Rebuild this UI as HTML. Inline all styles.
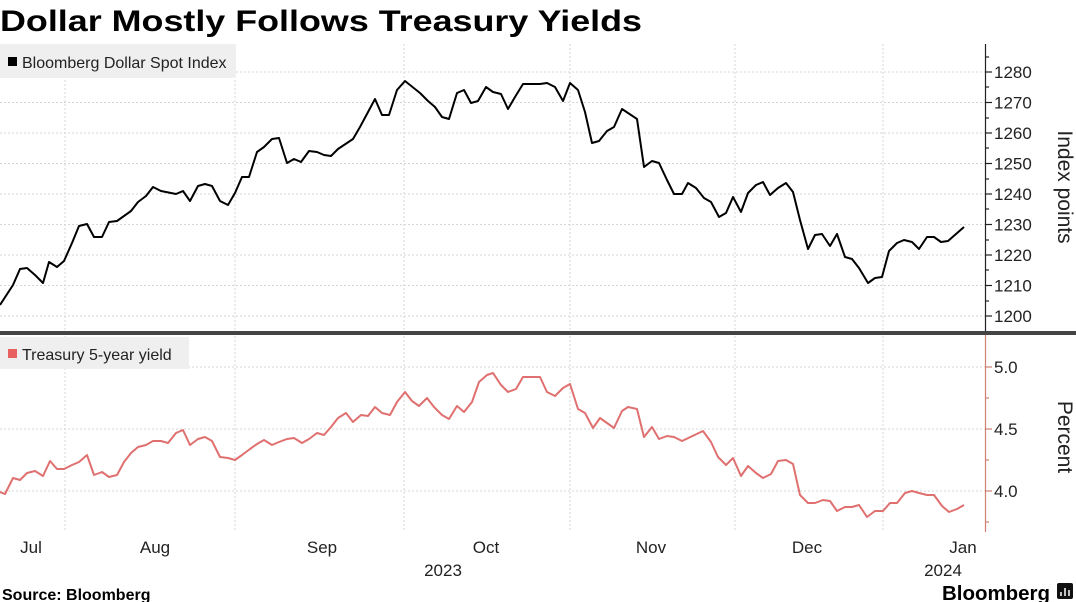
<!DOCTYPE html>
<html><head><meta charset="utf-8"><style>
html,body{margin:0;padding:0;background:#fff;width:1076px;height:602px;overflow:hidden}
svg text{font-family:"Liberation Sans","DejaVu Sans",sans-serif}
</style></head><body>
<svg width="1076" height="602" viewBox="0 0 1076 602" xmlns="http://www.w3.org/2000/svg">
<text x="0" y="31" font-size="30" font-weight="bold" fill="#000" textLength="642" lengthAdjust="spacingAndGlyphs">Dollar Mostly Follows Treasury Yields</text>
<g stroke="#d6d6d6" stroke-width="1" stroke-dasharray="2,2">
<line x1="0" x2="985" y1="72" y2="72"/><line x1="0" x2="985" y1="102.5" y2="102.5"/><line x1="0" x2="985" y1="133" y2="133"/><line x1="0" x2="985" y1="163.5" y2="163.5"/><line x1="0" x2="985" y1="194" y2="194"/><line x1="0" x2="985" y1="224.5" y2="224.5"/><line x1="0" x2="985" y1="255" y2="255"/><line x1="0" x2="985" y1="285.5" y2="285.5"/><line x1="0" x2="985" y1="316" y2="316"/>
<line x1="0" x2="985" y1="367" y2="367"/><line x1="0" x2="985" y1="429" y2="429"/><line x1="0" x2="985" y1="491" y2="491"/>
<line x1="65" x2="65" y1="44" y2="532"/><line x1="235" x2="235" y1="44" y2="532"/><line x1="404" x2="404" y1="44" y2="532"/><line x1="570" x2="570" y1="44" y2="532"/><line x1="735" x2="735" y1="44" y2="532"/><line x1="883" x2="883" y1="44" y2="532"/>
</g>
<rect x="0" y="44" width="236" height="34" fill="#efefef"/>
<rect x="8" y="57" width="9" height="9" fill="#000"/>
<text x="22" y="68" font-size="16" fill="#222">Bloomberg Dollar Spot Index</text>
<rect x="0" y="337" width="189" height="32" fill="#efefef"/>
<rect x="8" y="349" width="9" height="9" fill="#e86060"/>
<text x="22" y="360" font-size="16" fill="#222">Treasury 5-year yield</text>
<polyline fill="none" stroke="#000" stroke-width="2" stroke-linejoin="round" points="0,305 13,285 20,269 27,268 35,275 43,283 49,262 57,267 64,261 72,243 79,226 87,224 94,237 102,237 109,222 117,221 131,211 138,202 146,196 153,187 161,191 176,194 183,191 190,201 198,186 205,184 212,186 220,201 228,205 235,193 242,177 249,177 257,152 264,147 272,139 279,138 287,163 294,159 301,162 309,151 317,152 324,155 331,156 338,149 347,143 353,139 360,127 375,99 382,115 389,115 397,90 405,81 420,93 428,101 435,107 442,117 449,119 457,93 464,90 471,103 478,101 486,87 493,92 501,94 508,109 515,97 523,84 540,84 547,83 555,87 563,101 570,83 578,90 585,112 592,143 599,141 607,131 614,127 622,109 637,119 644,167 652,161 659,163 667,180 674,194 682,194 688,183 696,188 704,198 711,202 719,217 726,213 733,197 741,212 748,193 756,185 763,182 770,195 778,188 786,183 793,192 800,220 808,249 815,235 822,234 830,246 837,234 845,257 852,259 859,268 868,283 875,278 882,277 889,251 897,243 904,240 912,242 919,249 927,237 934,237 941,242 948,241 956,234 964,227"/>
<polyline fill="none" stroke="#e07070" stroke-width="2" stroke-linejoin="round" points="0,492 5,494 13,478 20,480 27,473 35,471 43,476 50,461 57,469 64,469 72,465 79,462 87,455 94,475 102,472 109,477 117,475 124,462 131,453 138,447 146,445 153,441 161,441 168,443 176,433 183,430 190,445 198,439 205,437 212,441 220,457 228,458 235,460 242,455 250,449 257,444 264,440 272,445 279,442 287,439 294,438 302,443 309,439 317,433 324,435 331,427 338,418 346,413 353,422 361,415 368,416 375,407 382,413 390,415 397,402 405,392 412,401 419,406 427,398 434,407 442,415 449,419 457,406 464,412 472,402 479,382 487,375 493,373 501,385 508,392 516,389 523,377 540,377 547,392 555,396 563,388 570,384 578,409 585,413 593,428 600,418 614,428 622,411 628,407 637,409 644,437 652,427 659,439 667,436 674,437 682,441 703,431 711,442 718,457 726,465 733,458 741,476 748,466 756,473 763,478 771,474 778,461 786,460 793,464 800,495 808,503 815,503 823,500 830,501 837,511 845,507 852,507 859,505 867,517 875,511 883,511 890,503 897,503 905,493 912,491 919,493 927,495 934,495 942,506 949,512 957,509 964,505"/>
<rect x="0" y="331" width="1076" height="4" fill="#444"/>
<line x1="985.5" x2="985.5" y1="44" y2="331" stroke="#222" stroke-width="1.2"/>
<g stroke="#222" stroke-width="1.2">
<line x1="985" x2="992" y1="72" y2="72"/><line x1="985" x2="992" y1="102.5" y2="102.5"/><line x1="985" x2="992" y1="133" y2="133"/><line x1="985" x2="992" y1="163.5" y2="163.5"/><line x1="985" x2="992" y1="194" y2="194"/><line x1="985" x2="992" y1="224.5" y2="224.5"/><line x1="985" x2="992" y1="255" y2="255"/><line x1="985" x2="992" y1="285.5" y2="285.5"/><line x1="985" x2="992" y1="316" y2="316"/>
<line x1="985" x2="989" y1="57" y2="57"/><line x1="985" x2="989" y1="87" y2="87"/><line x1="985" x2="989" y1="118" y2="118"/><line x1="985" x2="989" y1="148" y2="148"/><line x1="985" x2="989" y1="179" y2="179"/><line x1="985" x2="989" y1="209" y2="209"/><line x1="985" x2="989" y1="240" y2="240"/><line x1="985" x2="989" y1="270" y2="270"/><line x1="985" x2="989" y1="301" y2="301"/>
</g>
<line x1="985.5" x2="985.5" y1="335" y2="532" stroke="#d08070" stroke-width="1.2"/>
<g stroke="#d08070" stroke-width="1.2">
<line x1="985" x2="992" y1="367" y2="367"/><line x1="985" x2="992" y1="429" y2="429"/><line x1="985" x2="992" y1="491" y2="491"/>
<line x1="985" x2="989" y1="398" y2="398"/><line x1="985" x2="989" y1="460" y2="460"/><line x1="985" x2="989" y1="522" y2="522"/>
</g>
<g font-size="17" fill="#222">
<text x="994" y="78">1280</text><text x="994" y="108.5">1270</text><text x="994" y="139">1260</text><text x="994" y="169.5">1250</text><text x="994" y="200">1240</text><text x="994" y="230.5">1230</text><text x="994" y="261">1220</text><text x="994" y="291.5">1210</text><text x="994" y="322">1200</text>
<text x="994" y="373">5.0</text><text x="994" y="435">4.5</text><text x="994" y="497">4.0</text>
</g>
<text transform="translate(1058,187) rotate(90)" text-anchor="middle" font-size="21" fill="#222">Index points</text>
<text transform="translate(1058,437) rotate(90)" text-anchor="middle" font-size="21" fill="#222">Percent</text>
<g font-size="17" fill="#222" text-anchor="middle">
<text x="31" y="553">Jul</text><text x="155" y="553">Aug</text><text x="322" y="553">Sep</text><text x="486" y="553">Oct</text><text x="651" y="553">Nov</text><text x="807" y="553">Dec</text><text x="963" y="553">Jan</text>
<text x="443" y="576">2023</text><text x="943" y="576">2024</text>
</g>
<text x="2" y="600" font-size="16" font-weight="bold" fill="#000">Source: Bloomberg</text>
<text x="942" y="600" font-size="20" font-weight="bold" fill="#000" textLength="108" lengthAdjust="spacingAndGlyphs">Bloomberg</text>
<rect x="1057" y="583" width="16" height="16" rx="2" fill="#111"/>
<g stroke="#fff" stroke-width="1.5"><line x1="1061" x2="1061" y1="592" y2="596"/><line x1="1065" x2="1065" y1="588" y2="596"/><line x1="1069" x2="1069" y1="590" y2="596"/></g>
</svg>
</body></html>
